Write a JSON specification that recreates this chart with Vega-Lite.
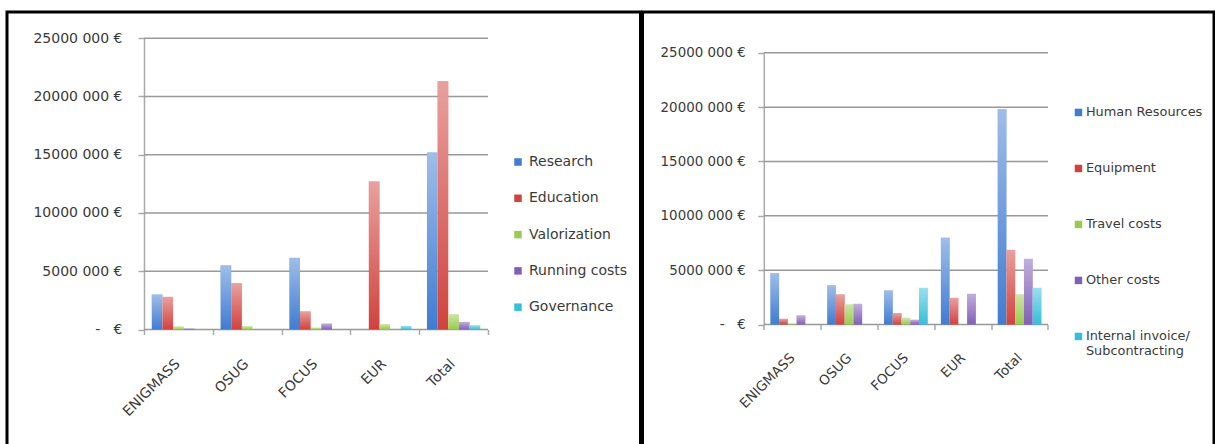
{
  "$schema": "https://vega.github.io/schema/vega-lite/v6.json",
  "padding": {"left": 5, "top": 10, "right": 0, "bottom": 0},
  "spacing": -1.5,
  "background": "white",
  "resolve": {"scale": {"color": "independent", "xOffset": "independent"}, "legend": {"color": "independent"}},
  "config": {
    "view": {"stroke": "#000000", "strokeWidth": 3},
    "font": "DejaVu Sans",
    "axis": {"labelFont": "DejaVu Sans", "labelColor": "#3a3a3a"},
    "legend": {"labelFont": "DejaVu Sans", "labelColor": "#3a3a3a"}
  },
  "datasets": {
    "left": [
      {"group": "ENIGMASS", "category": "Research", "amount": 3000000},
      {"group": "ENIGMASS", "category": "Education", "amount": 2800000},
      {"group": "ENIGMASS", "category": "Valorization", "amount": 250000},
      {"group": "ENIGMASS", "category": "Running costs", "amount": 80000},
      {"group": "ENIGMASS", "category": "Governance", "amount": 0},
      {"group": "OSUG", "category": "Research", "amount": 5500000},
      {"group": "OSUG", "category": "Education", "amount": 3970000},
      {"group": "OSUG", "category": "Valorization", "amount": 280000},
      {"group": "OSUG", "category": "Running costs", "amount": 0},
      {"group": "OSUG", "category": "Governance", "amount": 0},
      {"group": "FOCUS", "category": "Research", "amount": 6150000},
      {"group": "FOCUS", "category": "Education", "amount": 1550000},
      {"group": "FOCUS", "category": "Valorization", "amount": 150000},
      {"group": "FOCUS", "category": "Running costs", "amount": 500000},
      {"group": "FOCUS", "category": "Governance", "amount": 0},
      {"group": "EUR", "category": "Research", "amount": 0},
      {"group": "EUR", "category": "Education", "amount": 12700000},
      {"group": "EUR", "category": "Valorization", "amount": 450000},
      {"group": "EUR", "category": "Running costs", "amount": 0},
      {"group": "EUR", "category": "Governance", "amount": 300000},
      {"group": "Total", "category": "Research", "amount": 15200000},
      {"group": "Total", "category": "Education", "amount": 21300000},
      {"group": "Total", "category": "Valorization", "amount": 1300000},
      {"group": "Total", "category": "Running costs", "amount": 650000},
      {"group": "Total", "category": "Governance", "amount": 350000}
    ],
    "right": [
      {"group": "ENIGMASS", "category": "Human Resources", "amount": 4720000},
      {"group": "ENIGMASS", "category": "Equipment", "amount": 520000},
      {"group": "ENIGMASS", "category": "Travel costs", "amount": 80000},
      {"group": "ENIGMASS", "category": "Other costs", "amount": 830000},
      {"group": "ENIGMASS", "category": "Internal invoice/ Subcontracting", "amount": 0},
      {"group": "OSUG", "category": "Human Resources", "amount": 3600000},
      {"group": "OSUG", "category": "Equipment", "amount": 2760000},
      {"group": "OSUG", "category": "Travel costs", "amount": 1840000},
      {"group": "OSUG", "category": "Other costs", "amount": 1900000},
      {"group": "OSUG", "category": "Internal invoice/ Subcontracting", "amount": 0},
      {"group": "FOCUS", "category": "Human Resources", "amount": 3130000},
      {"group": "FOCUS", "category": "Equipment", "amount": 1040000},
      {"group": "FOCUS", "category": "Travel costs", "amount": 610000},
      {"group": "FOCUS", "category": "Other costs", "amount": 430000},
      {"group": "FOCUS", "category": "Internal invoice/ Subcontracting", "amount": 3370000},
      {"group": "EUR", "category": "Human Resources", "amount": 7980000},
      {"group": "EUR", "category": "Equipment", "amount": 2450000},
      {"group": "EUR", "category": "Travel costs", "amount": 0},
      {"group": "EUR", "category": "Other costs", "amount": 2820000},
      {"group": "EUR", "category": "Internal invoice/ Subcontracting", "amount": 0},
      {"group": "Total", "category": "Human Resources", "amount": 19800000},
      {"group": "Total", "category": "Equipment", "amount": 6870000},
      {"group": "Total", "category": "Travel costs", "amount": 2760000},
      {"group": "Total", "category": "Other costs", "amount": 6040000},
      {"group": "Total", "category": "Internal invoice/ Subcontracting", "amount": 3370000}
    ],
    "grid": [
      {"amount": 0}, {"amount": 5000000}, {"amount": 10000000},
      {"amount": 15000000}, {"amount": 20000000}, {"amount": 25000000}
    ]
  },
  "hconcat": [
    {
      "width": 633.5,
      "height": 440,
      "encoding": {
        "y": {"field": "amount", "type": "quantitative",
              "scale": {"domain": [0, 25000000], "range": [317.5, 26.2], "nice": false, "zero": false},
              "axis": {"values": [0, 5000000, 10000000, 15000000, 20000000, 25000000], "offset": -137, "domain": true, "domainColor": "#aaaaaa", "domainWidth": 1.5, "grid": false,
                       "tickSize": 6, "tickColor": "#aaaaaa", "tickWidth": 1.5, "labelPadding": 16, "labelFontSize": 14, "title": null,
                       "labelExpr": "datum.value == 0 ? '-\u00a0\u00a0\u00a0€' : format(datum.value / 1000000, 'd') + '000 000 €'"}},
        "x": {"field": "group", "type": "nominal", "sort": null,
              "scale": {"type": "band", "domain": ["ENIGMASS", "OSUG", "FOCUS", "EUR", "Total"], "range": [137, 481], "paddingInner": 0, "paddingOuter": 0},
              "axis": {"offset": -122.5, "domain": false, "grid": false, "tickBand": "extent", "tickSize": 5, "tickColor": "#aaaaaa", "tickWidth": 1.5,
                       "labelAngle": -45, "labelAlign": "right", "labelBaseline": "top", "labelPadding": 22, "labelOffset": -6, "labelFontSize": 14, "title": null}}
      },
      "layer": [
        {
          "data": {"name": "grid"},
          "mark": {"type": "rule", "color": "#999999", "strokeWidth": 1.5},
          "encoding": {
            "x": {"datum": "ENIGMASS", "type": "nominal", "bandPosition": 0},
            "x2": {"datum": "Total", "bandPosition": 1}
          }
        },
        {
          "data": {"name": "left"},
          "mark": {"type": "bar"},
          "encoding": {
            "xOffset": {"field": "category", "type": "nominal",
                        "scale": {"domain": ["Research", "Education", "Valorization", "Running costs", "Governance"], "paddingInner": 0, "paddingOuter": 0.73}},
            "color": {"field": "category", "type": "nominal",
                      "scale": {"domain": ["Research", "Education", "Valorization", "Running costs", "Governance"],
                                "range": ["#3f7cd2", "#d2423d", "#9acb4c", "#815fb8", "#35bfdb"]},
                      "legend": {"orient": "none", "legendX": 504, "legendY": 143, "title": null, "symbolType": "square", "symbolSize": 56,
                                 "symbolStrokeWidth": 0, "symbolOpacity": 1, "labelFontSize": 14, "labelOffset": 4, "rowPadding": 22.3}}
          }
        },
        {
          "data": {"name": "left"},
          "mark": {"type": "bar", "color": {"gradient": "linear", "x1": 0, "y1": 0, "x2": 0, "y2": 1,
                   "stops": [{"offset": 0, "color": "rgba(255,255,255,0.5)"}, {"offset": 1, "color": "rgba(255,255,255,0)"}]}},
          "encoding": {
            "xOffset": {"field": "category", "type": "nominal"}
          }
        }
      ]
    },
    {
      "width": 571.5,
      "height": 440,
      "encoding": {
        "y": {"field": "amount", "type": "quantitative",
              "scale": {"domain": [0, 25000000], "range": [312.5, 40.8], "nice": false, "zero": false},
              "axis": {"values": [0, 5000000, 10000000, 15000000, 20000000, 25000000], "offset": -121.3, "domain": true, "domainColor": "#aaaaaa", "domainWidth": 1.5, "grid": false,
                       "tickSize": 6, "tickColor": "#aaaaaa", "tickWidth": 1.5, "labelPadding": 12.5, "labelFontSize": 13.4, "title": null,
                       "labelExpr": "datum.value == 0 ? '-\u00a0\u00a0\u00a0€' : format(datum.value / 1000000, 'd') + '000 000 €'"}},
        "x": {"field": "group", "type": "nominal", "sort": null,
              "scale": {"type": "band", "domain": ["ENIGMASS", "OSUG", "FOCUS", "EUR", "Total"], "range": [121.3, 405.5], "paddingInner": 0, "paddingOuter": 0},
              "axis": {"offset": -127.5, "domain": false, "grid": false, "tickBand": "extent", "tickSize": 5, "tickColor": "#aaaaaa", "tickWidth": 1.5,
                       "labelAngle": -45, "labelAlign": "right", "labelBaseline": "top", "labelPadding": 21, "labelOffset": -5, "labelFontSize": 13.5, "title": null}}
      },
      "layer": [
        {
          "data": {"name": "grid"},
          "mark": {"type": "rule", "color": "#999999", "strokeWidth": 1.5},
          "encoding": {
            "x": {"datum": "ENIGMASS", "type": "nominal", "bandPosition": 0},
            "x2": {"datum": "Total", "bandPosition": 1}
          }
        },
        {
          "data": {"name": "right"},
          "mark": {"type": "bar"},
          "encoding": {
            "xOffset": {"field": "category", "type": "nominal",
                        "scale": {"domain": ["Human Resources", "Equipment", "Travel costs", "Other costs", "Internal invoice/ Subcontracting"], "paddingInner": 0, "paddingOuter": 0.75}},
            "color": {"field": "category", "type": "nominal",
                      "scale": {"domain": ["Human Resources", "Equipment", "Travel costs", "Other costs", "Internal invoice/ Subcontracting"],
                                "range": ["#3f7cd2", "#d2423d", "#9acb4c", "#815fb8", "#35bfdb"]},
                      "legend": {"orient": "none", "legendX": 429.5, "legendY": 94, "title": null, "symbolType": "square", "symbolSize": 56,
                                 "symbolStrokeWidth": 0, "symbolOpacity": 1, "labelFontSize": 12.9, "labelOffset": 1, "rowPadding": 42,
                                 "labelExpr": "datum.label == 'Internal invoice/ Subcontracting' ? ['Internal invoice/', 'Subcontracting'] : datum.label"}}
          }
        },
        {
          "data": {"name": "right"},
          "mark": {"type": "bar", "color": {"gradient": "linear", "x1": 0, "y1": 0, "x2": 0, "y2": 1,
                   "stops": [{"offset": 0, "color": "rgba(255,255,255,0.5)"}, {"offset": 1, "color": "rgba(255,255,255,0)"}]}},
          "encoding": {
            "xOffset": {"field": "category", "type": "nominal"}
          }
        }
      ]
    }
  ]
}
